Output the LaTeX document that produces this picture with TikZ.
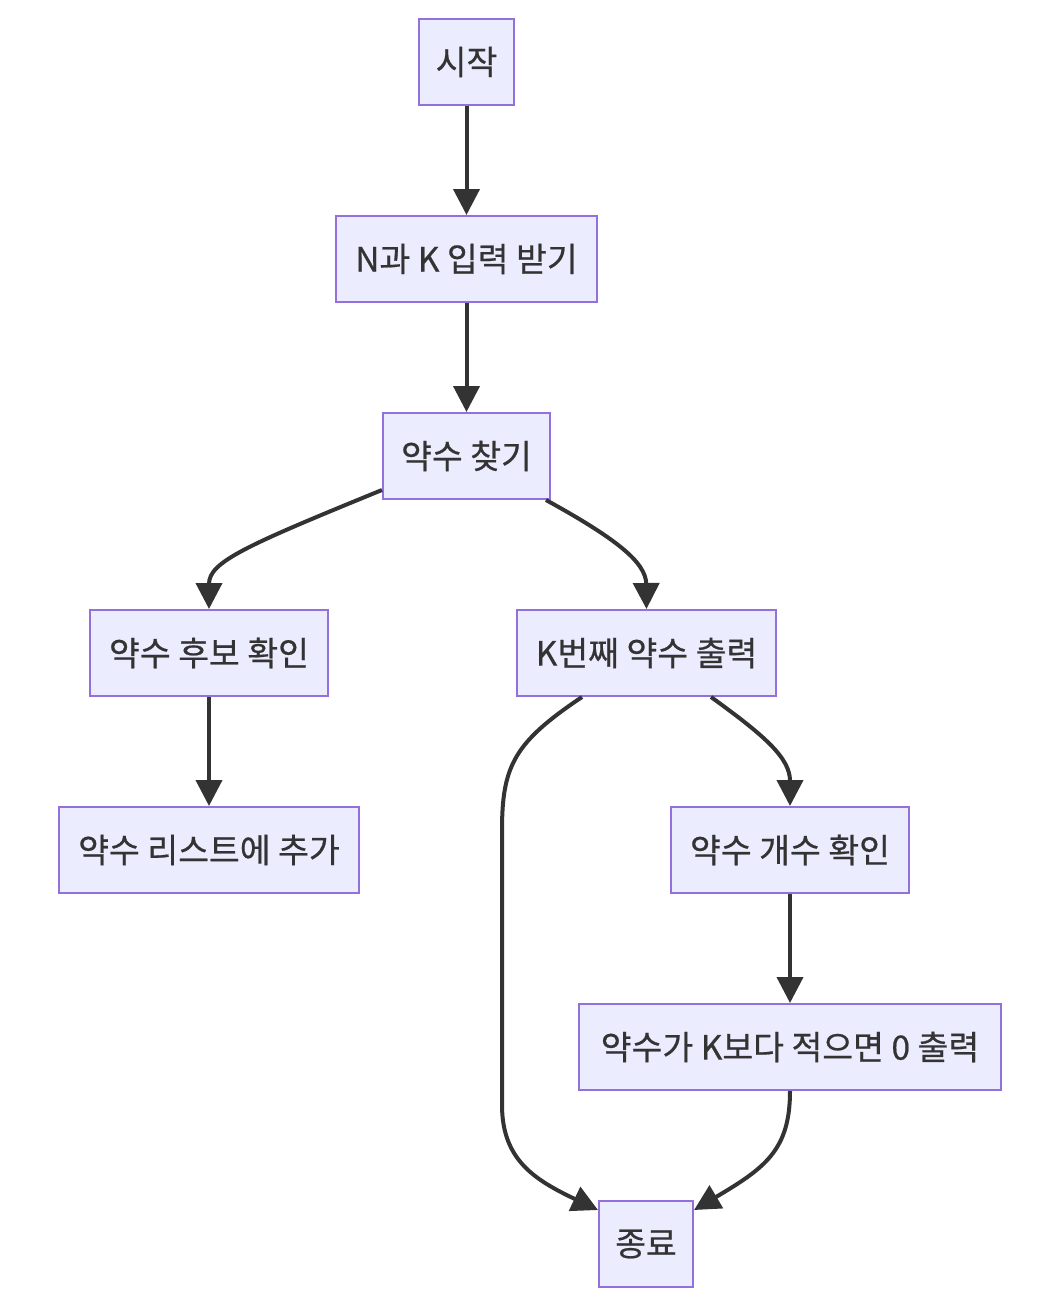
\documentclass[tikz,border=0pt]{standalone}
\usepackage{fontspec}
\setmainfont{Noto Sans CJK KR}[FakeBold=0.6]
\usetikzlibrary{arrows.meta}
\definecolor{boxfill}{HTML}{ECECFF}
\definecolor{boxline}{HTML}{9370DB}
\definecolor{ink}{HTML}{333333}
\tikzset{
  box/.style={draw=boxline, fill=boxfill, line width=2pt, inner sep=0pt, text=ink,
    minimum height=86pt, font=\fontsize{33.5}{40}\selectfont},
  flow/.style={draw=ink, line width=4pt, -{Triangle[length=26pt,width=26pt]}}
}
\begin{document}
\begin{tikzpicture}[x=1pt,y=-1pt]
\useasboundingbox (0,0) rectangle (1044,1314);
\node[box, minimum width=95pt] (s) at (466.5,62) {시작};
\node[box, minimum width=261pt] (inp) at (466.5,259) {N과 K 입력 받기};
\node[box, minimum width=167pt] (find) at (466.5,456) {약수 찾기};
\node[box, minimum width=238pt] (cand) at (209,653) {약수 후보 확인};
\node[box, minimum width=259pt] (kth) at (646.5,653) {K번째 약수 출력};
\node[box, minimum width=300pt] (add) at (209,850) {약수 리스트에 추가};
\node[box, minimum width=238pt] (cnt) at (790,850) {약수 개수 확인};
\node[box, minimum width=422pt] (zero) at (790,1047) {약수가 K보다 적으면 0 출력};
\node[box, minimum width=94pt] (e) at (646,1244) {종료};

\draw[flow] (s.south) -- (inp.north);
\draw[flow] (inp.south) -- (find.north);
\draw[flow] ([yshift=10pt]find.south west) .. controls (245,546) and (209,562) .. (cand.north);
\draw[flow] ([xshift=-5pt]find.south east) .. controls (615,538) and (646,562) .. (kth.north);
\draw[flow] (cand.south) -- (add.north);
\draw[flow] ([xshift=-66pt]kth.south east) .. controls (765,736) and (790,758) .. (cnt.north);
\draw[flow] ([xshift=66pt]kth.south west) .. controls (515,742) and (502,765) .. (502,830)
  -- (502,1105) .. controls (502,1160) and (535,1180) .. ([yshift=-10pt]e.north west);
\draw[flow] (cnt.south) -- (zero.north);
\draw[flow] (zero.south) .. controls (790,1150) and (765,1168) .. ([yshift=-10pt]e.north east);
\end{tikzpicture}
\end{document}
